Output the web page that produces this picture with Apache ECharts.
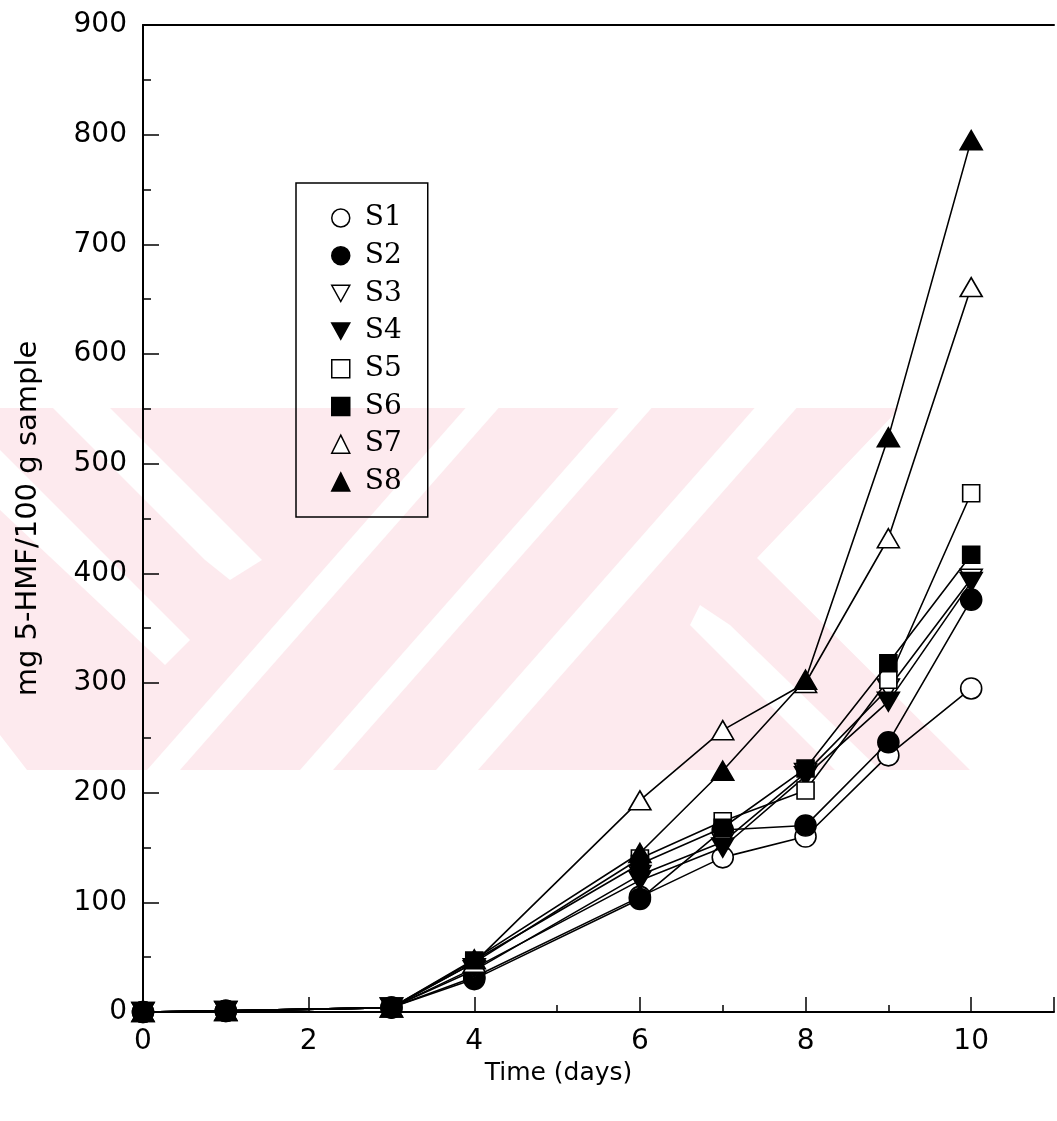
<!DOCTYPE html>
<html><head><meta charset="utf-8">
<script src="https://cdn.jsdelivr.net/npm/echarts@6/dist/echarts.min.js"></script>
<style>html,body{margin:0;padding:0;background:#fff}#c{width:1057px;height:1121px}</style>
</head><body><div id="c"></div>
<script>
const days = [0, 1, 3, 4, 6, 7, 8, 9, 10];
const S1 = [0, 1, 4, 32, 105, 141, 160, 234, 295];
const S2 = [0, 1, 4, 30, 103, 166, 170, 246, 376];
const S3 = [0, 1, 4, 38, 125, 155, 218, 295, 395];
const S4 = [0, 1, 4, 40, 120, 150, 215, 283, 392];
const S5 = [0, 1, 4, 45, 140, 174, 202, 303, 473];
const S6 = [0, 1, 4, 47, 135, 168, 222, 318, 417];
const S7 = [0, 1, 4, 45, 193, 257, 300, 432, 661];
const S8 = [0, 1, 4, 48, 145, 220, 303, 524, 795];
const names = ['S1','S2','S3','S4','S5','S6','S7','S8'];
const values = [S1,S2,S3,S4,S5,S6,S7,S8];
const symbols = ['circle','circle','path://M0,0 L10,0 L5,9 Z','path://M0,0 L10,0 L5,9 Z','rect','rect','triangle','triangle'];
const filled = [false,true,false,true,false,true,false,true];
const xTickLabels = ['0','2','4','6','8','10'];
const yTickLabels = ['0','100','200','300','400','500','600','700','800','900'];

const chart = echarts.init(document.getElementById('c'));
const font = 'DejaVu Sans';
const PINK = '#fdeaee';
// background watermark (decorative)
function poly(pts, fill){ return {type:'polygon', z:-10, silent:true, shape:{points:pts}, style:{fill:fill}}; }
const T = 408, B = 770, k = 0.88;
function slashStripe(xb0, xb1){ const h=B-T; return [[xb0,B],[xb1,B],[xb1+k*h,T],[xb0+k*h,T]]; }
const watermark = [
  poly([[0,T],[900,T],[757,558],[970,B],[0,B]], PINK),
  poly(slashStripe(147,180), '#fff'),
  poly(slashStripe(300,333), '#fff'),
  poly(slashStripe(436,478), '#fff'),
  poly([[53,T],[110,T],[262,560],[230,580],[205,560]], '#fff'),
  poly([[0,450],[0,510],[165,665],[190,640]], '#fff'),
  poly([[700,605],[730,625],[880,B],[835,B],[690,625]], '#fff'),
  poly([[0,735],[27,B],[0,B]], '#fff')
];

function symSize(s){ return s==='rect'?17:(s==='circle'?21:[22,19]); }
const series = names.map((n,i)=>({
  name: n, type: 'line', xAxisIndex: 0,
  data: days.map((d,j)=>[d, values[i][j]]),
  symbol: symbols[i], symbolSize: symSize(symbols[i]),
  lineStyle: {color:'#000', width:1.6},
  itemStyle: {color: filled[i]?'#000':'#fff', borderColor:'#000', borderWidth:1.6},
  emphasis:{disabled:true}, animation:false, z: 2+i
}));
const legendText = {fontFamily:'DejaVu Serif', fontSize:28, color:'#000', padding:[0,0,0,10], lineHeight:30};
chart.setOption({
  animation:false,
  graphic: watermark,
  grid:{left:143, right:0, top:25, bottom:109, containLabel:false},
  legend:{
    orient:'vertical', left:296, top:183,
    padding:[20,26,20,35],
    itemWidth:18, itemHeight:18, itemGap:7.7,
    borderColor:'#000', borderWidth:1.5,
    data: names.map((n,i)=>({name:n, icon:symbols[i], textStyle:legendText,
      itemStyle:{color: filled[i]?'#000':'#fff', borderColor:'#000', borderWidth:1.5}})),
    textStyle:legendText,
    selectedMode:false
  },
  xAxis:[{
    type:'value', min:0, max:11, interval:1, position:'bottom',
    name:'Time (days)', nameLocation:'middle', nameGap:48,
    nameTextStyle:{fontFamily:font, fontSize:25, color:'#000', padding:[0,80,0,0]},
    axisLine:{show:true, onZero:false, lineStyle:{color:'#000', width:2}},
    axisTick:{show:true, inside:true, length:7, lineStyle:{color:'#000', width:1.5}},
    axisLabel:{margin:16, fontFamily:font, fontSize:28, color:'#000',
      formatter:v=> (v%2===0 && v<=10) ? xTickLabels[v/2] : ''},
    splitLine:{show:false}
  },{
    type:'value', min:0, max:11, interval:2, position:'bottom',
    axisLine:{show:false}, axisLabel:{show:false},
    axisTick:{show:true, inside:true, length:15, lineStyle:{color:'#000', width:1.5}},
    splitLine:{show:false}
  },{
    type:'value', min:0, max:11, position:'top',
    axisLine:{show:true, lineStyle:{color:'#000', width:2}},
    axisTick:{show:false}, axisLabel:{show:false}, splitLine:{show:false}
  }],
  yAxis:{
    type:'value', min:0, max:900, interval:100,
    name:'mg 5-HMF/100 g sample', nameLocation:'middle', nameGap:100, nameRotate:90,
    nameTextStyle:{fontFamily:font, fontSize:29, color:'#000'},
    axisLine:{show:true, onZero:false, lineStyle:{color:'#000', width:2}},
    axisTick:{show:true, inside:true, length:16, lineStyle:{color:'#000', width:1.5}},
    minorTick:{show:true, splitNumber:2, length:8, lineStyle:{color:'#000', width:1.5}},
    axisLabel:{margin:16, fontFamily:font, fontSize:28, color:'#000',
      formatter:v=> yTickLabels[Math.round(v/100)]},
    splitLine:{show:false}, minorSplitLine:{show:false}
  },
  series: series
});
</script></body></html>
